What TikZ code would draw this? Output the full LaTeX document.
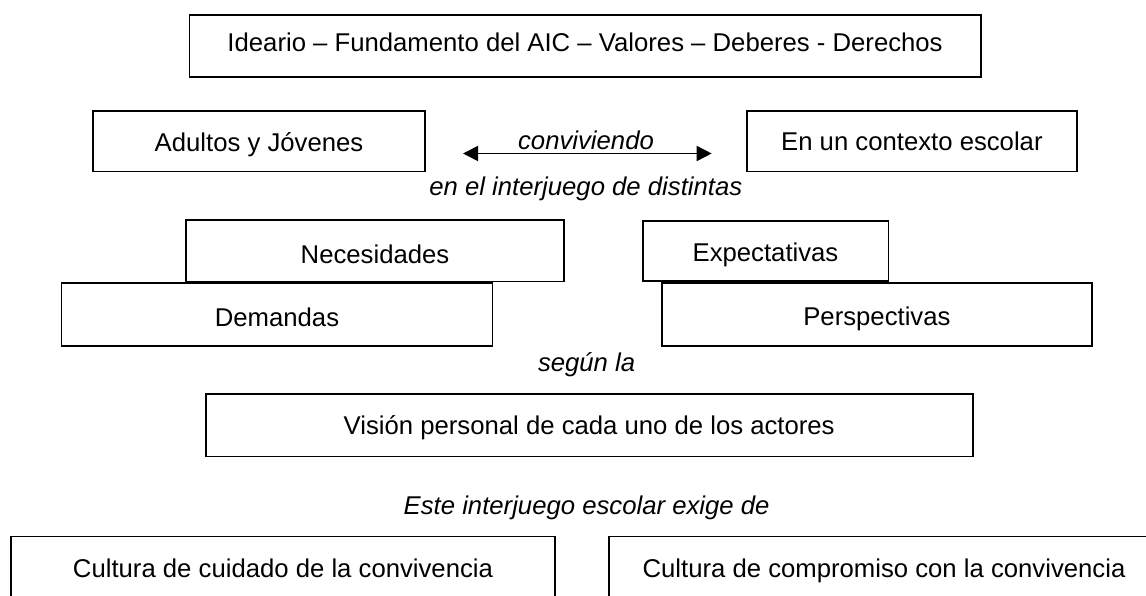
\documentclass[tikz,border=0pt]{standalone}
\usepackage{fontspec}
\setmainfont{Liberation Sans}
\usetikzlibrary{arrows.meta}
\tikzset{
  box/.style={draw=black, line width=1.8pt, fill=white, inner sep=0pt, anchor=center,
    font=\fontsize{25.7}{30}\selectfont, text height=#1, text depth=0pt},
  box/.default=20pt,
  lbl/.style={inner sep=0pt, anchor=base, font=\fontsize{25.7}{30}\selectfont\itshape},
  conn/.style={line width=1.6pt, {Triangle[length=15pt,width=15pt]}-{Triangle[length=15pt,width=15pt]}}
}
\begin{document}
\begin{tikzpicture}[x=1pt,y=-1pt]
\useasboundingbox (0,0) rectangle (1146,596);
\clip (0,0) rectangle (1146,596);
\fill[white] (0,0) rectangle (1146,596);
\node[box=11pt, minimum width=791.4pt, minimum height=62.4pt] (ideario) at (585.1,46.2) {Ideario – Fundamento del AIC – Valores – Deberes - Derechos};
\node[box=21pt, minimum width=331.6pt, minimum height=60.5pt] (adultos) at (259,141.2) {Adultos y Jóvenes};
\node[box=19.6pt, minimum width=329.9pt, minimum height=60.5pt] (contexto) at (911.9,141.2) {En un contexto escolar};
\node[lbl] (conv) at (586,150) {conviviendo};
\coordinate (al) at (463,153.5);
\coordinate (ar) at (711.7,153.5);
\draw[conn] (al) -- (ar);
\node[lbl] (inter) at (585.8,196) {en el interjuego de distintas};
\node[box=26pt, minimum width=378.2pt, minimum height=61.2pt] (neces) at (375,250.8) {Necesidades};
\node[box=21.2pt, minimum width=245.8pt, minimum height=60.5pt] (expec) at (765.5,251.1) {Expectativas};
\node[box=23.6pt, minimum width=430.9pt, minimum height=62.6pt] (deman) at (277,314.5) {Demandas};
\node[box=21pt, minimum width=429.9pt, minimum height=62.6pt] (persp) at (876.9,314.5) {Perspectivas};
\node[lbl] (segun) at (586.6,371.7) {según la};
\node[box=18pt, minimum width=767.2pt, minimum height=62.2pt] (vision) at (589.2,425.3) {Visión personal de cada uno de los actores};
\node[lbl] (exige) at (586.6,514) {Este interjuego escolar exige de};
\node[box=19.6pt, minimum width=544.2pt, minimum height=62.2pt] (cuidado) at (283,567.5) {Cultura de cuidado de la convivencia};
\node[box=19.6pt, minimum width=550.2pt, minimum height=62.2pt] (compro) at (884,567.5) {Cultura de compromiso con la convivencia};
\end{tikzpicture}
\end{document}
